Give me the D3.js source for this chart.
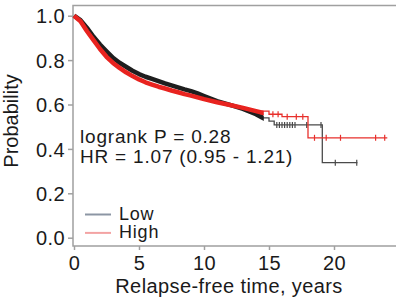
<!DOCTYPE html>
<html>
<head>
<meta charset="utf-8">
<script src="https://cdn.jsdelivr.net/npm/d3@7"></script>
<style>
  body { margin: 0; background: #fff; }
  svg { display: block; font-family: "Liberation Sans", Arial, sans-serif; }
  text { letter-spacing: 0.4px; }
</style>
</head>
<body>
<script>
// Kaplan-Meier steps: [time in years, survival]
const lowSteps = [
  [0, 1.0], [0.5, 0.98], [1, 0.945], [1.5, 0.905], [2, 0.87], [2.5, 0.84], [3, 0.81],
  [3.5, 0.788], [4, 0.77], [4.5, 0.752], [5, 0.737], [5.5, 0.725], [6, 0.715],
  [6.5, 0.705], [7, 0.695], [7.5, 0.686], [8, 0.677], [8.5, 0.668], [9, 0.66],
  [9.5, 0.65], [10, 0.638], [11, 0.615], [12, 0.598], [13, 0.58], [14, 0.556],
  [14.5, 0.54], [15, 0.525], [15.4, 0.508], [19.1, 0.338], [21.8, 0.338]
];
const highSteps = [
  [0, 1.0], [0.5, 0.975], [1, 0.93], [1.5, 0.89], [2, 0.85], [2.5, 0.815], [3, 0.787],
  [3.5, 0.765], [4, 0.745], [4.5, 0.728], [5, 0.713], [5.5, 0.70], [6, 0.69],
  [6.5, 0.68], [7, 0.672], [7.5, 0.663], [8, 0.655], [8.5, 0.647], [9, 0.64],
  [9.5, 0.632], [10, 0.624], [11, 0.61], [12, 0.598], [13, 0.585], [14, 0.57],
  [15, 0.556], [16, 0.545], [18.0, 0.45], [24.1, 0.45]
];
// sparse censoring marks in the tail
const lowCensor = [15.6, 15.8, 16.0, 16.2, 16.4, 16.6, 16.8, 17.0, 17.9, 19.0, 20.1, 21.75];
const highCensor = [15.3, 15.7, 16.4, 17.1, 17.6, 18.5, 19.4, 20.5, 23.2, 23.9];
const groups = ["Low", "High"];
const yTicks = [0, 0.2, 0.4, 0.6, 0.8, 1.0];
const xTicks = [0, 5, 10, 15, 20];
const statLines = ["logrank P = 0.28", "HR = 1.07 (0.95 - 1.21)"];

const W = 396, H = 301;
const FS = 20;
const x = d3.scaleLinear().domain([0, 25]).range([74, 399]);
const y = d3.scaleLinear().domain([0, 1]).range([237.7, 15.7]);
const colors = {Low: "#1e1e1e", High: "#e8231f"};
const tailColors = {Low: "#4a4a4a", High: "#e8302c"};
const legendColors = {Low: "#8c96a4", High: "#f3a3a3"};

const svg = d3.select("body").append("svg").attr("width", W).attr("height", H);

// frame
svg.append("path").attr("d", `M${W},5.5H73V246H${W}`)
  .attr("stroke", "#a0a0a0").attr("stroke-width", 1.5).attr("fill", "none");

// y axis
const yAxis = svg.append("g").attr("transform", "translate(73,0)")
  .call(d3.axisLeft(y).tickValues(yTicks).tickFormat(d3.format(".1f")).tickSize(5).tickPadding(3));
yAxis.select(".domain").remove();
yAxis.selectAll("line").attr("stroke", "#a0a0a0").attr("stroke-width", 1.5);
yAxis.selectAll("text").attr("font-size", FS).attr("fill", "#1a1a1a").attr("dy", "0.36em")
  .attr("font-family", "Liberation Sans, Arial, sans-serif");

// x axis
const xAxis = svg.append("g").attr("transform", "translate(0,246)")
  .call(d3.axisBottom(x).tickValues(xTicks).tickSize(4));
xAxis.select(".domain").remove();
xAxis.selectAll("line").attr("stroke", "#a0a0a0").attr("stroke-width", 1.5);
xAxis.selectAll("text").attr("font-size", FS).attr("fill", "#1a1a1a").attr("y", 24).attr("dy", 0)
  .attr("font-family", "Liberation Sans, Arial, sans-serif");

// axis titles
svg.append("text").attr("x", 229).attr("y", 293).attr("text-anchor", "middle")
  .attr("font-size", FS).attr("fill", "#1a1a1a").text("Relapse-free time, years");
svg.append("text").attr("transform", "translate(18,121) rotate(-90)").attr("text-anchor", "middle")
  .attr("font-size", FS).attr("fill", "#1a1a1a").style("letter-spacing", "0px").text("Probability");

// curves: dense (thick) part before ~14.5 years, thin steps after
svg.append("clipPath").attr("id", "dense").append("rect")
  .attr("x", 0).attr("y", 0).attr("width", x(14.6)).attr("height", H);
svg.append("clipPath").attr("id", "tail").append("rect")
  .attr("x", x(14.4)).attr("y", 0).attr("width", W).attr("height", H);

const stepLine = d3.line().x(d => x(d[0])).y(d => y(d[1])).curve(d3.curveStepAfter);
const smoothLine = d3.line().x(d => x(d[0])).y(d => y(d[1]));
const series = {Low: lowSteps, High: highSteps};
const censors = {Low: lowCensor, High: highCensor};

function survAt(steps, t) {
  let v = steps[0][1];
  for (const s of steps) { if (s[0] <= t) v = s[1]; }
  return v;
}

groups.forEach(g => {
  svg.append("path").datum(series[g]).attr("d", stepLine)
    .attr("clip-path", "url(#tail)")
    .attr("fill", "none").attr("stroke", tailColors[g]).attr("stroke-width", 1.3);
  svg.append("path").datum(series[g]).attr("d", smoothLine)
    .attr("clip-path", "url(#dense)")
    .attr("fill", "none").attr("stroke", colors[g]).attr("stroke-width", 4.5)
    .attr("stroke-linejoin", "round");
  svg.append("g").selectAll("line").data(censors[g]).join("line")
    .attr("x1", d => x(d)).attr("x2", d => x(d))
    .attr("y1", d => y(survAt(series[g], d)) - 3)
    .attr("y2", d => y(survAt(series[g], d)) + 3)
    .attr("stroke", tailColors[g]).attr("stroke-width", 1.2);
});

// stats text
svg.append("g").selectAll("text").data(statLines).join("text")
  .attr("x", 80).attr("y", (d, i) => 143.3 + i * 19.6)
  .attr("font-size", 19).style("letter-spacing", "0.8px")
  .attr("fill", "#1a1a1a").text(d => d);

// legend
const legend = svg.append("g").selectAll("g").data(groups).join("g")
  .attr("transform", (d, i) => `translate(85,${214.5 + i * 18.4})`);
legend.append("line").attr("x1", 0).attr("x2", 26).attr("stroke", d => legendColors[d]).attr("stroke-width", 2);
legend.append("text").attr("x", 34).attr("y", 5).attr("font-size", 18).style("letter-spacing", "0.8px")
  .attr("fill", "#1a1a1a").text(d => d);
</script>
</body>
</html>
